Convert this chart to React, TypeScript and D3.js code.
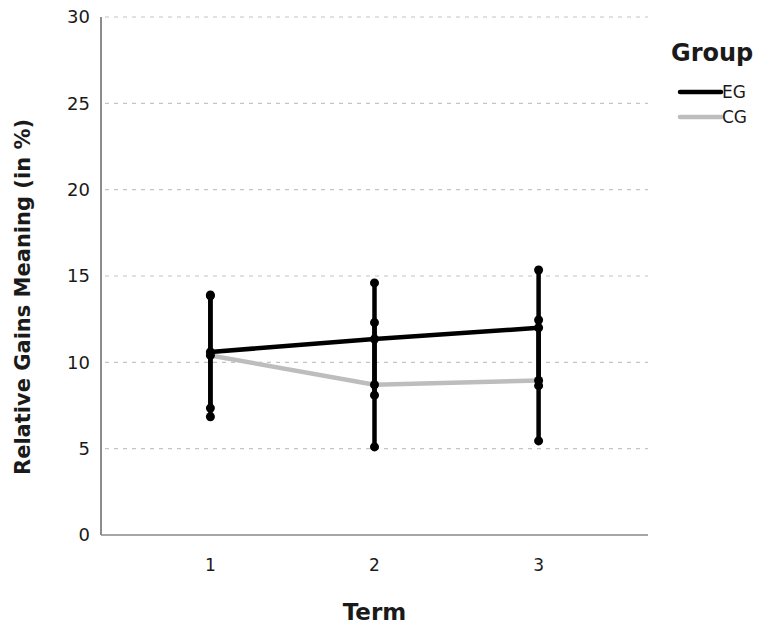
import React from 'react';
import * as d3 from 'd3';

const width = 761;
const height = 628;
const margin = { top: 17, right: 113, bottom: 93, left: 101 };

const terms = [1, 2, 3];
const groups = ['EG', 'CG'];
const groupColors = ['#000000', '#bdbdbd'];
const egMeans = [10.6, 11.35, 12.0];
const egLow = [7.35, 8.1, 8.65];
const egHigh = [13.85, 14.6, 15.35];
const cgMeans = [10.4, 8.7, 8.95];
const cgLow = [6.85, 5.1, 5.45];
const cgHigh = [13.9, 12.3, 12.45];
const yTicks = [0, 5, 10, 15, 20, 25, 30];

const font = '"DejaVu Sans", sans-serif';

const App = () => {
  const x = d3.scaleLinear()
    .domain([1 / 3, 11 / 3])
    .range([margin.left, width - margin.right]);
  const y = d3.scaleLinear()
    .domain([0, 30])
    .range([height - margin.bottom, margin.top]);

  const line = d3.line<number>()
    .x((_, i) => x(terms[i]))
    .y(d => y(d));

  const series = [
    { name: groups[0], means: egMeans, low: egLow, high: egHigh, color: groupColors[0] },
    { name: groups[1], means: cgMeans, low: cgLow, high: cgHigh, color: groupColors[1] },
  ];

  return (
    <svg width={width} height={height} style={{ position: 'absolute', left: 0, top: 0 }}>
      <rect width={width} height={height} fill="#fff" />

      {/* grid lines */}
      {yTicks.filter(t => t > 0).map(t => (
        <line
          key={t}
          x1={margin.left + 4}
          x2={width - margin.right}
          y1={y(t)}
          y2={y(t)}
          stroke="#c4c4c4"
          strokeWidth={1.2}
          strokeDasharray="4,5"
        />
      ))}

      {/* axes */}
      <line x1={margin.left} x2={margin.left} y1={y(30)} y2={y(0)} stroke="#666" strokeWidth={1.5} />
      <line x1={margin.left} x2={width - margin.right} y1={y(0)} y2={y(0)} stroke="#888" strokeWidth={1.5} />

      {yTicks.map(t => (
        <text key={t} x={margin.left - 11} y={y(t)} dy="0.36em" textAnchor="end"
          fontFamily={font} fontSize={18} fill="#1a1a1a">{t}</text>
      ))}
      {terms.map(t => (
        <text key={t} x={x(t)} y={y(0) + 36} textAnchor="middle"
          fontFamily={font} fontSize={17} fill="#1a1a1a">{t}</text>
      ))}

      <text x={x(2)} y={620} textAnchor="middle" fontFamily={font} fontSize={23}
        fontWeight="bold" fill="#1a1a1a">Term</text>
      <text transform={`translate(30, 297) rotate(-90)`} textAnchor="middle"
        fontFamily={font} fontSize={21} fontWeight="bold" fill="#1a1a1a">
        Relative Gains Meaning (in %)
      </text>

      {/* mean lines */}
      {series.slice().reverse().map(s => (
        <path key={s.name} d={line(s.means) || ''} fill="none" stroke={s.color}
          strokeWidth={4.5} strokeLinejoin="round" />
      ))}

      {/* error bars */}
      {series.map(s => (
        <g key={s.name}>
          {terms.map((t, i) => (
            <g key={t}>
              <line x1={x(t)} x2={x(t)} y1={y(s.low[i])} y2={y(s.high[i])}
                stroke="#000" strokeWidth={4.5} />
              <circle cx={x(t)} cy={y(s.low[i])} r={4.5} fill="#000" />
              <circle cx={x(t)} cy={y(s.high[i])} r={4.5} fill="#000" />
              <circle cx={x(t)} cy={y(s.means[i])} r={4.5} fill="#000" />
            </g>
          ))}
        </g>
      ))}

      {/* legend */}
      <text x={671} y={61} fontFamily={font} fontSize={24} fontWeight="bold" fill="#1a1a1a">Group</text>
      {series.map((s, i) => (
        <g key={s.name} transform={`translate(0, ${92 + i * 25})`}>
          <line x1={680} x2={721} y1={0} y2={0} stroke={s.color} strokeWidth={4.5} strokeLinecap="round" />
          <text x={722} y={0} dy="0.38em" fontFamily={font} fontSize={17} fill="#1a1a1a">{s.name}</text>
        </g>
      ))}
    </svg>
  );
};

export default App;
